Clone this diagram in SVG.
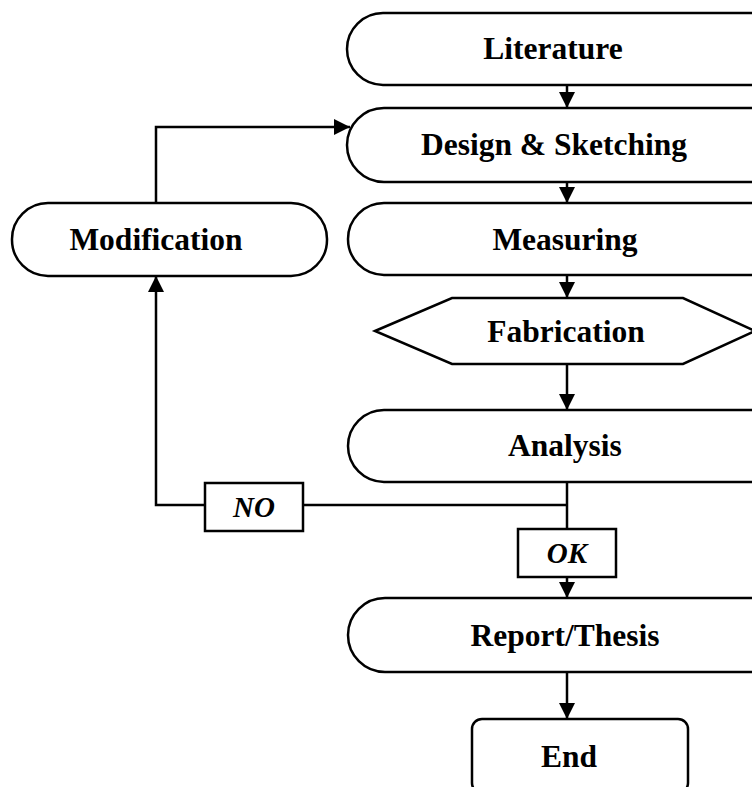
<svg xmlns="http://www.w3.org/2000/svg" width="752" height="787" viewBox="0 0 752 787">
<defs>
<marker id="ah" viewBox="0 0 16 16" refX="16" refY="8" markerWidth="16" markerHeight="16" markerUnits="userSpaceOnUse" orient="auto">
<path d="M0,0 L16,8 L0,16 Z" fill="#000"/>
</marker>
<style>
.shape{fill:#fff;stroke:#000;stroke-width:2.5}
.lbl{font-family:"Liberation Serif","Times New Roman",serif;font-weight:bold;font-size:31.5px;text-anchor:middle;fill:#000}
.cond{font-family:"Liberation Serif","Times New Roman",serif;font-weight:bold;font-style:italic;font-size:29px;text-anchor:middle;fill:#000}
.conn{fill:none;stroke:#000;stroke-width:2.5}
</style>
</defs>
<rect width="752" height="787" fill="#fff"/>
<g id="connectors">
<line class="conn" x1="567" y1="85" x2="567" y2="108" marker-end="url(#ah)"/>
<line class="conn" x1="567" y1="182" x2="567" y2="203" marker-end="url(#ah)"/>
<line class="conn" x1="567" y1="275" x2="567" y2="298" marker-end="url(#ah)"/>
<line class="conn" x1="567" y1="364" x2="567" y2="410" marker-end="url(#ah)"/>
<line class="conn" x1="567" y1="482" x2="567" y2="529"/>
<line class="conn" x1="567" y1="505" x2="303" y2="505"/>
<polyline class="conn" points="205,505 156,505 156,276" marker-end="url(#ah)"/>
<polyline class="conn" points="156,203 156,127 350,127" marker-end="url(#ah)"/>
<line class="conn" x1="567" y1="577" x2="567" y2="598" marker-end="url(#ah)"/>
<line class="conn" x1="567" y1="672" x2="567" y2="719" marker-end="url(#ah)"/>
</g>
<g id="literature">
<rect class="shape" x="347" y="13" width="440" height="72" rx="36" ry="36"/>
<text class="lbl" x="553" y="59">Literature</text>
</g>
<g id="design">
<rect class="shape" x="347" y="108" width="440" height="74" rx="37" ry="37"/>
<text class="lbl" x="554" y="155">Design &amp; Sketching</text>
</g>
<g id="modification">
<rect class="shape" x="12" y="203" width="315" height="73" rx="36" ry="36"/>
<text class="lbl" x="156" y="250">Modification</text>
</g>
<g id="measuring">
<rect class="shape" x="348" y="203" width="440" height="72" rx="36" ry="36"/>
<text class="lbl" x="565" y="250">Measuring</text>
</g>
<g id="fabrication">
<polygon class="shape" points="375,331 452,298 683,298 755,331 683,364 452,364"/>
<text class="lbl" x="566" y="342">Fabrication</text>
</g>
<g id="analysis">
<rect class="shape" x="348" y="410" width="440" height="72" rx="36" ry="36"/>
<text class="lbl" x="565" y="456">Analysis</text>
</g>
<g id="no">
<rect class="shape" x="205" y="483" width="98" height="48"/>
<text class="cond" x="254" y="517">NO</text>
</g>
<g id="ok">
<rect class="shape" x="518" y="529" width="98" height="48"/>
<text class="cond" x="567" y="563">OK</text>
</g>
<g id="report">
<rect class="shape" x="348" y="598" width="440" height="74" rx="37" ry="37"/>
<text class="lbl" x="565" y="646">Report/Thesis</text>
</g>
<g id="end">
<rect class="shape" x="472" y="719" width="216" height="74" rx="10" ry="10"/>
<text class="lbl" x="569" y="767">End</text>
</g>
</svg>
